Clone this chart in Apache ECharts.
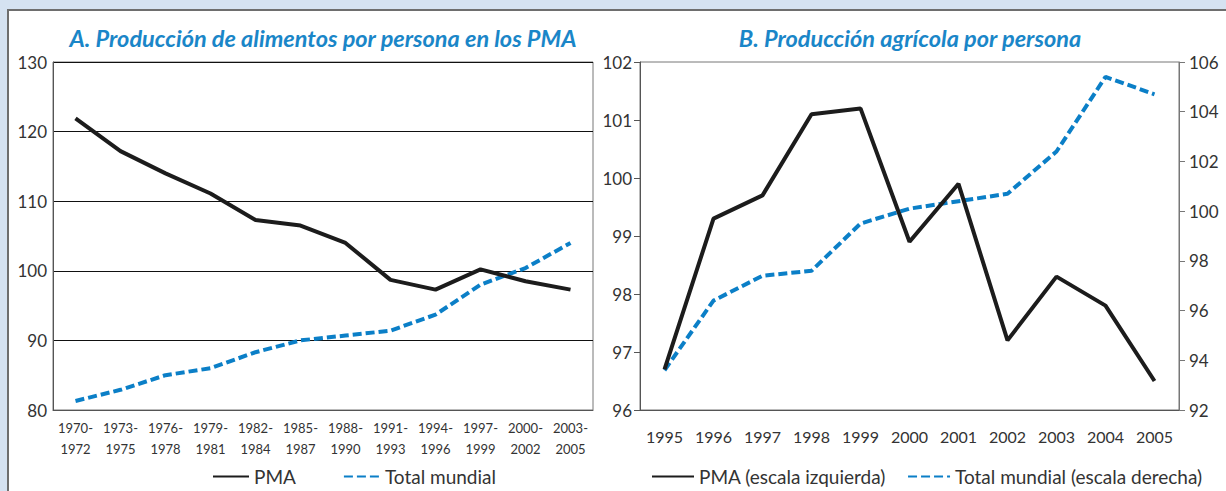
<!DOCTYPE html>
<html>
<head>
<meta charset="utf-8">
<script src="https://cdn.jsdelivr.net/npm/echarts@6/dist/echarts.min.js"></script>
<style>
    html, body { margin: 0; padding: 0; width: 1226px; height: 491px; overflow: hidden; background: #d5e2f1; }
    #frame { position: absolute; left: 7px; top: 9px; right: 0; bottom: 0; background: #fff; border-top: 2px solid #6e6e6e; border-left: 2px solid #6e6e6e; }
    #chart { position: absolute; left: 0; top: 0; width: 1226px; height: 491px; }
</style>
</head>
<body>
<div id="frame"></div>
<div id="chart"></div>
<script>
    // Panel A: producción de alimentos por persona en los PMA
    var periodos = ['1970-\n1972', '1973-\n1975', '1976-\n1978', '1979-\n1981', '1982-\n1984', '1985-\n1987',
        '1988-\n1990', '1991-\n1993', '1994-\n1996', '1997-\n1999', '2000-\n2002', '2003-\n2005'];
    var pmaA = [121.9, 117.2, 114.0, 111.1, 107.3, 106.5, 104.0, 98.7, 97.3, 100.2, 98.5, 97.3];
    var mundoA = [81.3, 82.9, 85.0, 86.0, 88.3, 90.0, 90.7, 91.4, 93.7, 98.0, 100.4, 104.0];

    // Panel B: producción agrícola por persona
    var anios = ['1995', '1996', '1997', '1998', '1999', '2000', '2001', '2002', '2003', '2004', '2005'];
    var pmaB = [96.7, 99.3, 99.7, 101.1, 101.2, 98.9, 99.9, 97.2, 98.3, 97.8, 96.5];
    var mundoB = [93.6, 96.4, 97.4, 97.6, 99.5, 100.1, 100.4, 100.7, 102.4, 105.4, 104.7];

    var FONT = 'Lato, "Open Sans", sans-serif';
    var NEGRO = '#1c1c1c';
    var AZUL = '#0b7fc7';
    var labelStyle = {color: '#333', fontFamily: FONT};

    var chart = echarts.init(document.getElementById('chart'), null, {renderer: 'svg'});

    function lineaPMA(name, xi, yi, data) {
        return {
            name: name, type: 'line', xAxisIndex: xi, yAxisIndex: yi, data: data,
            symbol: 'none', lineStyle: {color: NEGRO, width: 4}, itemStyle: {color: NEGRO}, z: 3
        };
    }

    function lineaMundo(name, xi, yi, data) {
        return {
            name: name, type: 'line', xAxisIndex: xi, yAxisIndex: yi, data: data,
            symbol: 'none', lineStyle: {color: AZUL, width: 4, type: [9, 4]}, itemStyle: {color: AZUL}, z: 2
        };
    }

    var option = {
        animation: false,
        graphic: [
            {type: 'text', x: 323, y: 38, style: {text: 'A. Producción de alimentos por persona en los PMA', fill: '#1a86c8',
                font: 'italic bold 23.5px ' + FONT, textAlign: 'center', textVerticalAlign: 'middle'}},
            {type: 'text', x: 910, y: 38, style: {text: 'B. Producción agrícola por persona', fill: '#1a86c8',
                font: 'italic bold 23.5px ' + FONT, textAlign: 'center', textVerticalAlign: 'middle'}}
        ],
        grid: [
            {left: 53, right: 633, top: 62, bottom: 81, show: true, borderColor: '#777', borderWidth: 1},
            {left: 640, right: 47, top: 62, bottom: 81, show: true, borderColor: '#777', borderWidth: 1}
        ],
        legend: [
            {data: ['PMA', 'Total mundial'], left: 207, top: 462, itemWidth: 36, itemHeight: 12, itemGap: 47,
                itemStyle: {opacity: 0},
                textStyle: {fontSize: 19, color: '#333', fontFamily: FONT}},
            {data: ['PMA (escala izquierda)', 'Total mundial (escala derecha)'], left: 646, top: 462, itemWidth: 42, itemHeight: 12, itemGap: 21,
                itemStyle: {opacity: 0},
                textStyle: {fontSize: 19, color: '#333', fontFamily: FONT}}
        ],
        xAxis: [
            {type: 'category', gridIndex: 0, data: periodos, boundaryGap: true,
                axisLine: {lineStyle: {color: '#555'}}, axisTick: {length: 6, lineStyle: {color: '#555'}},
                axisLabel: Object.assign({fontSize: 13, margin: 7, lineHeight: 21, interval: 0}, labelStyle)},
            {type: 'category', gridIndex: 1, data: anios, boundaryGap: true,
                axisLine: {lineStyle: {color: '#555'}}, axisTick: {length: 6, lineStyle: {color: '#555'}},
                axisLabel: Object.assign({fontSize: 16, margin: 18, interval: 0}, labelStyle)}
        ],
        yAxis: [
            {type: 'value', gridIndex: 0, min: 80, max: 130, interval: 10,
                axisLine: {show: true, lineStyle: {color: '#555'}}, axisTick: {show: false},
                splitLine: {show: true, lineStyle: {color: '#111', width: 1}},
                axisLabel: Object.assign({fontSize: 17, margin: 6}, labelStyle)},
            {type: 'value', gridIndex: 1, min: 96, max: 102, interval: 1, position: 'left',
                axisLine: {show: true, lineStyle: {color: '#555'}}, axisTick: {show: true, length: 6, lineStyle: {color: '#555'}},
                splitLine: {show: false},
                axisLabel: Object.assign({fontSize: 17, margin: 8}, labelStyle)},
            {type: 'value', gridIndex: 1, min: 92, max: 106, interval: 2, position: 'right',
                axisLine: {show: true, lineStyle: {color: '#777'}}, axisTick: {show: true, length: 6, lineStyle: {color: '#777'}},
                splitLine: {show: false},
                axisLabel: Object.assign({fontSize: 17, margin: 10}, labelStyle)}
        ],
        series: [
            lineaPMA('PMA', 0, 0, pmaA),
            lineaMundo('Total mundial', 0, 0, mundoA),
            lineaPMA('PMA (escala izquierda)', 1, 1, pmaB),
            lineaMundo('Total mundial (escala derecha)', 1, 2, mundoB)
        ]
    };

    chart.setOption(option);
</script>
</body>
</html>
